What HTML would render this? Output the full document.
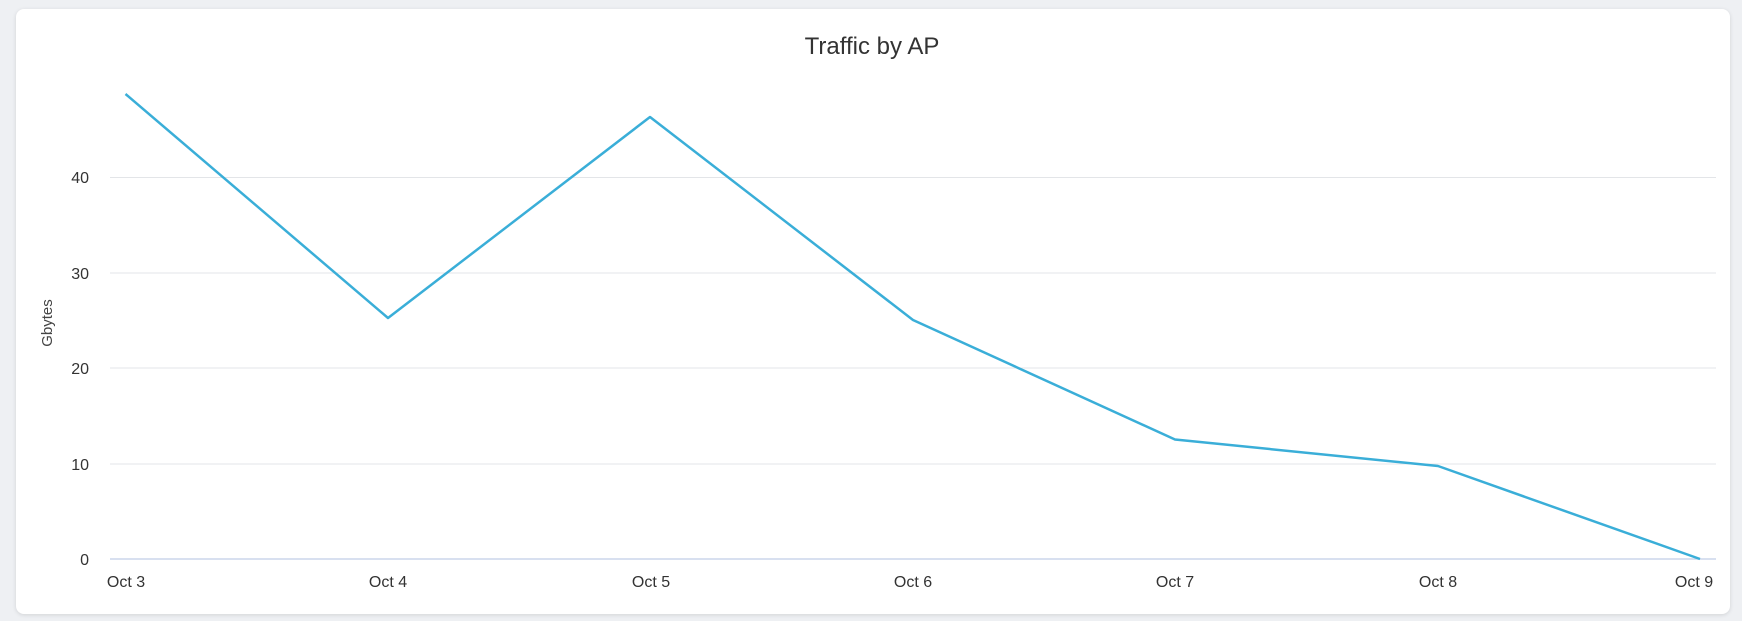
<!DOCTYPE html>
<html><head><style>
body{margin:0;width:1742px;height:621px;background:#eef0f3;overflow:hidden;font-family:"Liberation Sans",sans-serif}
.card{position:absolute;left:16px;top:9px;width:1714px;height:605px;background:#fff;border-radius:8px;box-shadow:0 1px 4px rgba(0,0,0,.12)}
</style></head><body>
<div class="card"></div>
<svg width="1742" height="621" style="position:absolute;left:0;top:0" font-family="Liberation Sans, sans-serif">
<text x="872" y="54" text-anchor="middle" font-size="24" fill="#333">Traffic by AP</text>
<g stroke="#e3e5e8" stroke-width="1">
<line x1="110" x2="1716" y1="177.5" y2="177.5"/>
<line x1="110" x2="1716" y1="273" y2="273"/>
<line x1="110" x2="1716" y1="368" y2="368"/>
<line x1="110" x2="1716" y1="464" y2="464"/>
</g>
<line x1="110" x2="1716" y1="559" y2="559" stroke="#ccd6eb" stroke-width="1.5"/>
<g font-size="16" fill="#333" text-anchor="end">
<text x="89" y="183">40</text><text x="89" y="279">30</text><text x="89" y="374">20</text><text x="89" y="470">10</text><text x="89" y="565">0</text>
</g>
<text transform="translate(52,323) rotate(-90)" text-anchor="middle" font-size="15" fill="#444">Gbytes</text>
<g font-size="16" fill="#333" text-anchor="middle">
<text x="126" y="587">Oct 3</text><text x="388" y="587">Oct 4</text><text x="651" y="587">Oct 5</text><text x="913" y="587">Oct 6</text><text x="1175" y="587">Oct 7</text><text x="1438" y="587">Oct 8</text><text x="1694" y="587">Oct 9</text>
</g>
<polyline fill="none" stroke="#3aaed8" stroke-width="2.5" stroke-linejoin="round" points="125.5,94 388,318 650,117 913,320 1175,439.5 1438,466 1700,559"/>
</svg>
</body></html>
